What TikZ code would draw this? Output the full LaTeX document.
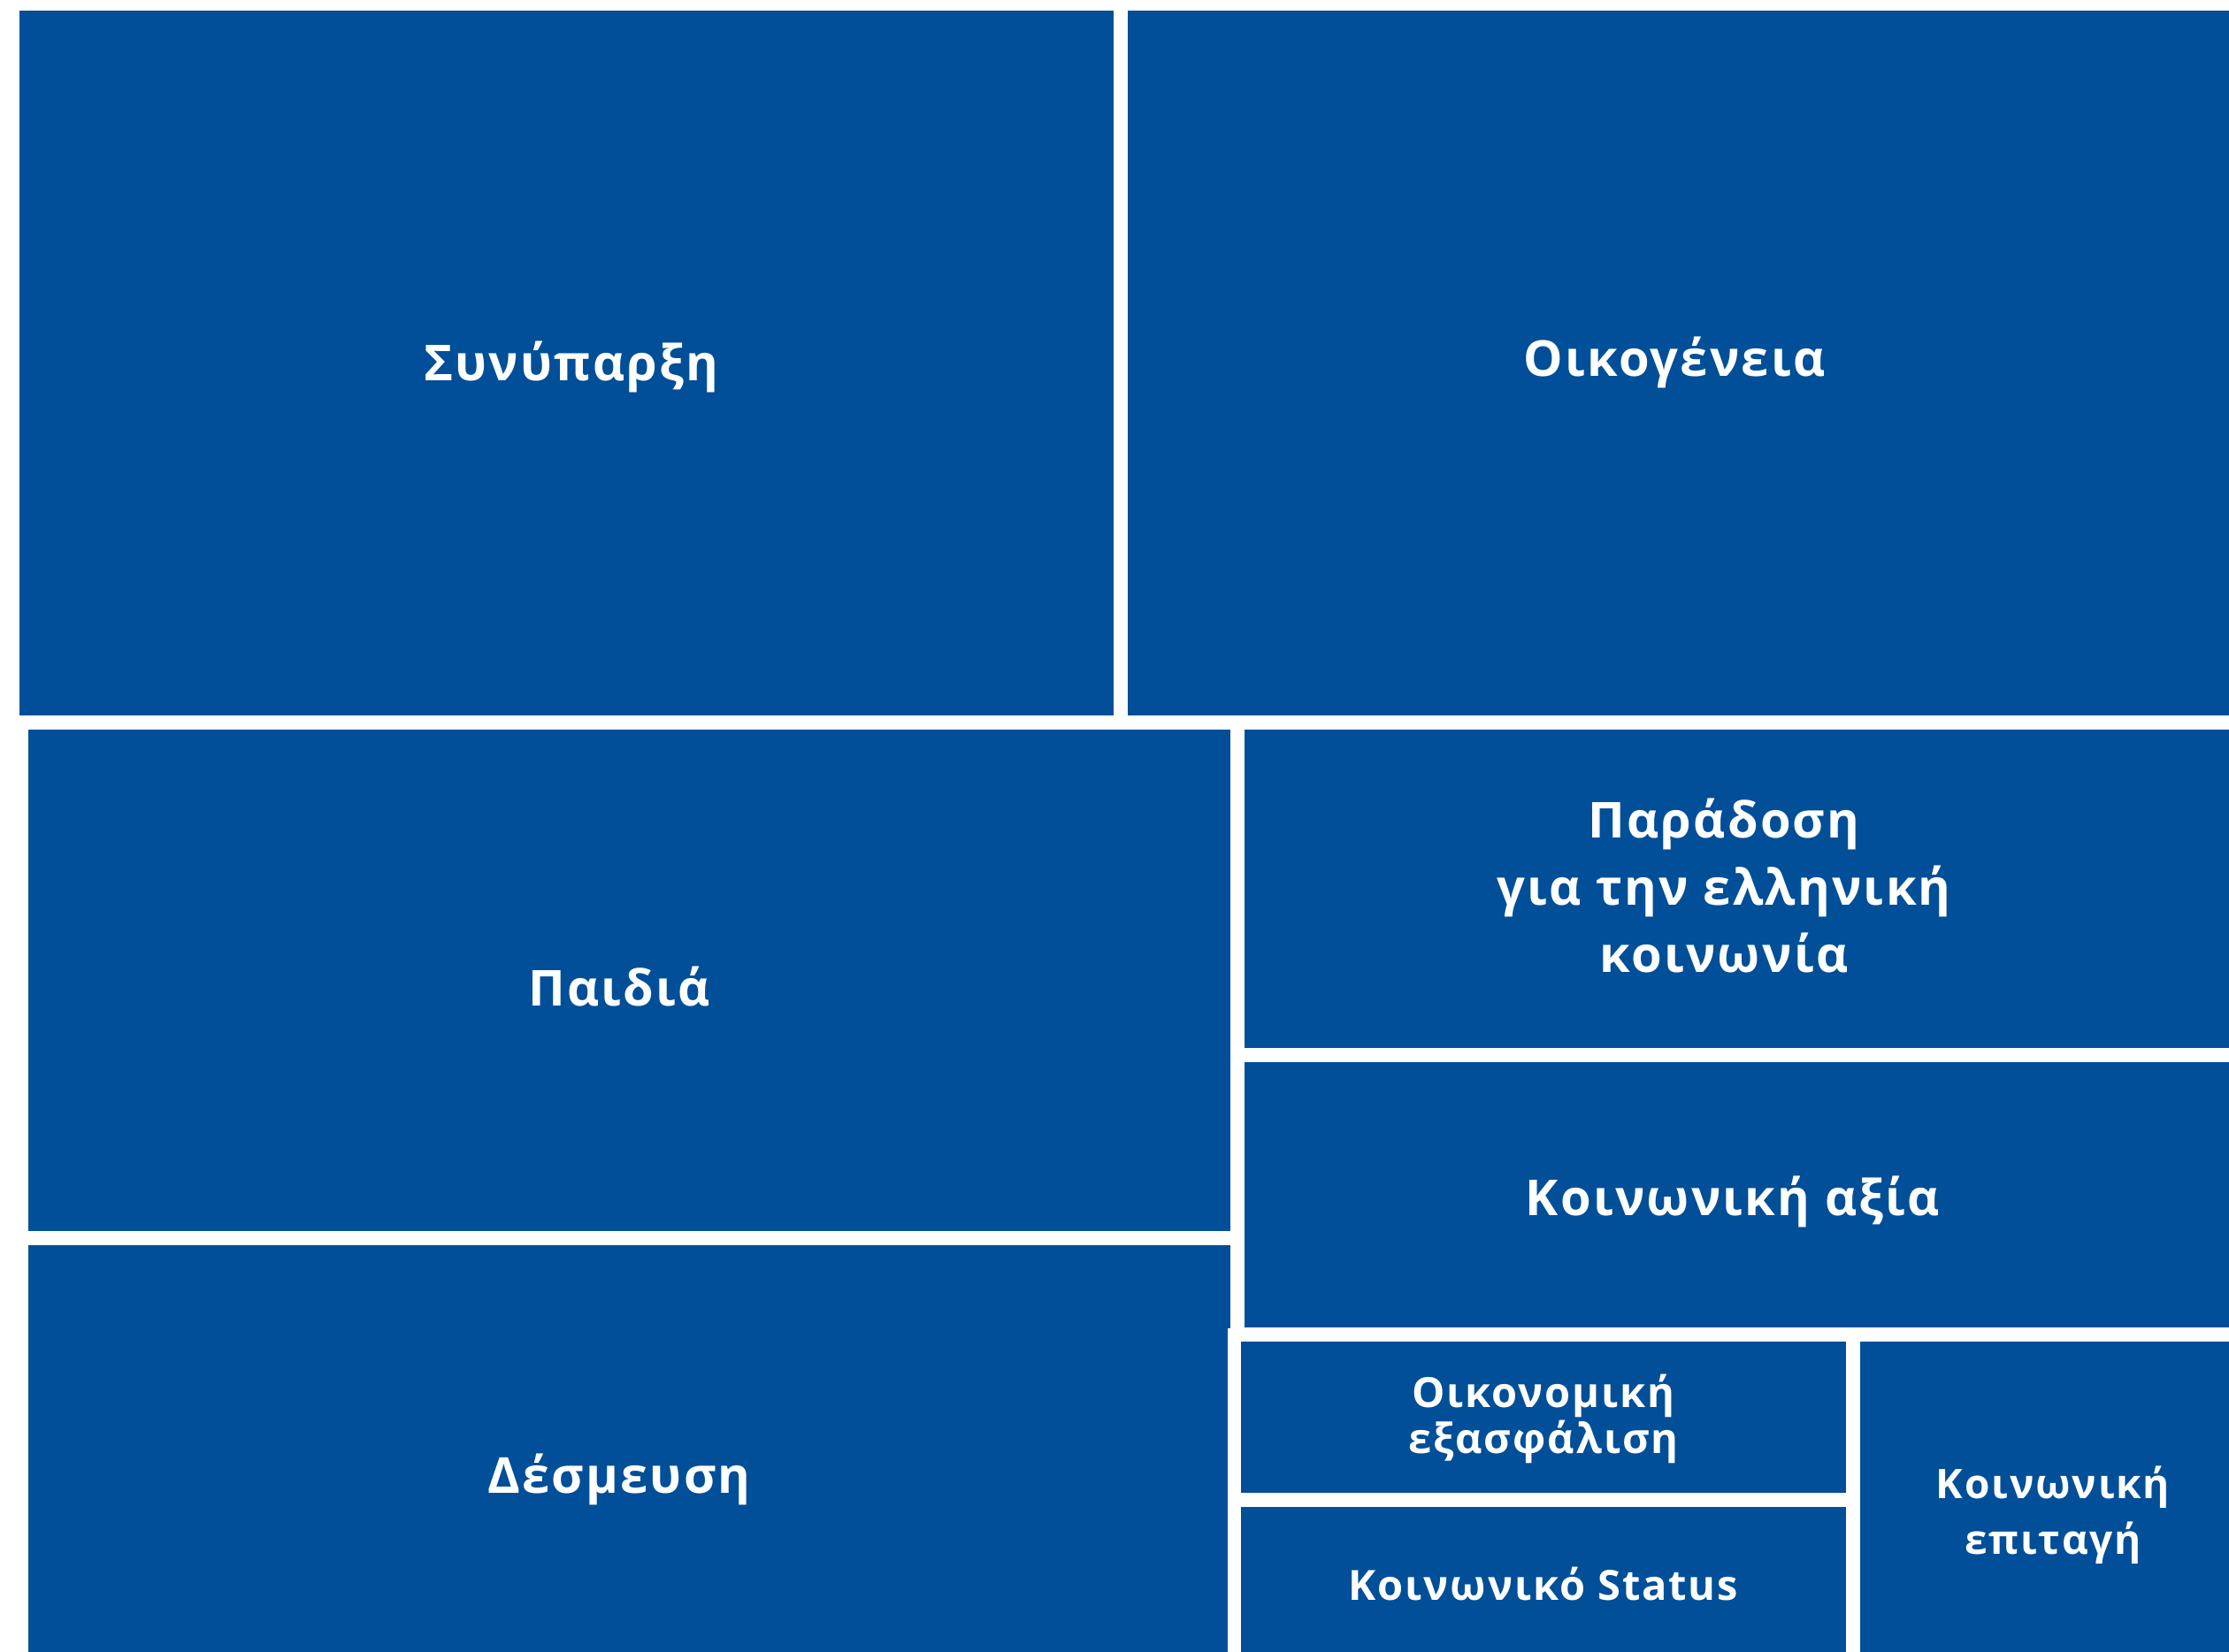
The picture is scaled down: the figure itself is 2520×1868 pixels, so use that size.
\documentclass[tikz,border=0pt]{standalone}
\usepackage{fontspec}
\setmainfont{Open Sans}[UprightFont=* Bold, LetterSpace=4]
\definecolor{tmblue}{RGB}{0,79,152}
\begin{document}
\begin{tikzpicture}[x=1pt,y=-1pt,
  box/.style={fill=tmblue, draw=none, inner sep=0pt, anchor=north west, rectangle},
  big/.style={text=white, font=\fontsize{56}{76}\selectfont, align=center, inner sep=0pt},
  small/.style={text=white, font=\fontsize{47}{52}\selectfont, align=center, inner sep=0pt}]
\useasboundingbox (0,0) rectangle (2520,1868);
\fill[white] (0,0) rectangle (2520,1868);
% boxes
\node[box, minimum width=1237pt, minimum height=797pt] (b1) at (22,12) {};
\node[box, minimum width=1245pt, minimum height=797pt] (b2) at (1275,12) {};
\node[box, minimum width=1359pt, minimum height=567pt] (b3) at (32,825) {};
\node[box, minimum width=1359pt, minimum height=460pt] (b4) at (32,1408) {};
\node[box, minimum width=1113pt, minimum height=360pt] (b5) at (1407,825) {};
\node[box, minimum width=1113pt, minimum height=300pt] (b6) at (1407,1201) {};
\fill[white] (1388,1502) rectangle (1403,1868);
\node[box, minimum width=684pt, minimum height=171pt] (b7) at (1403,1517) {};
\node[box, minimum width=684pt, minimum height=164pt] (b8) at (1403,1704) {};
\node[box, minimum width=417pt, minimum height=351pt] (b9) at (2103,1517) {};
% labels
\node[big] (t1) at (646,415) {Συνύπαρξη};
\node[big] (t2) at (1893,410) {Οικογένεια};
\node[big] (t3) at (700,1115) {Παιδιά};
\node[big] (t4) at (700,1673) {Δέσμευση};
\node[big] (t5) at (1949,1001) {Παράδοση\\για την ελληνική\\κοινωνία};
\node[big] (t6) at (1959,1359) {Κοινωνική αξία};
\node[small] (t7) at (1745,1604) {Οικονομική\\εξασφάλιση};
\node[small] (t8) at (1745,1791) {Κοινωνικό Status};
\node[small, font=\fontsize{46}{63}\selectfont] (t9) at (2321,1713) {Κοινωνική\\επιταγή};
\end{tikzpicture}
\end{document}
